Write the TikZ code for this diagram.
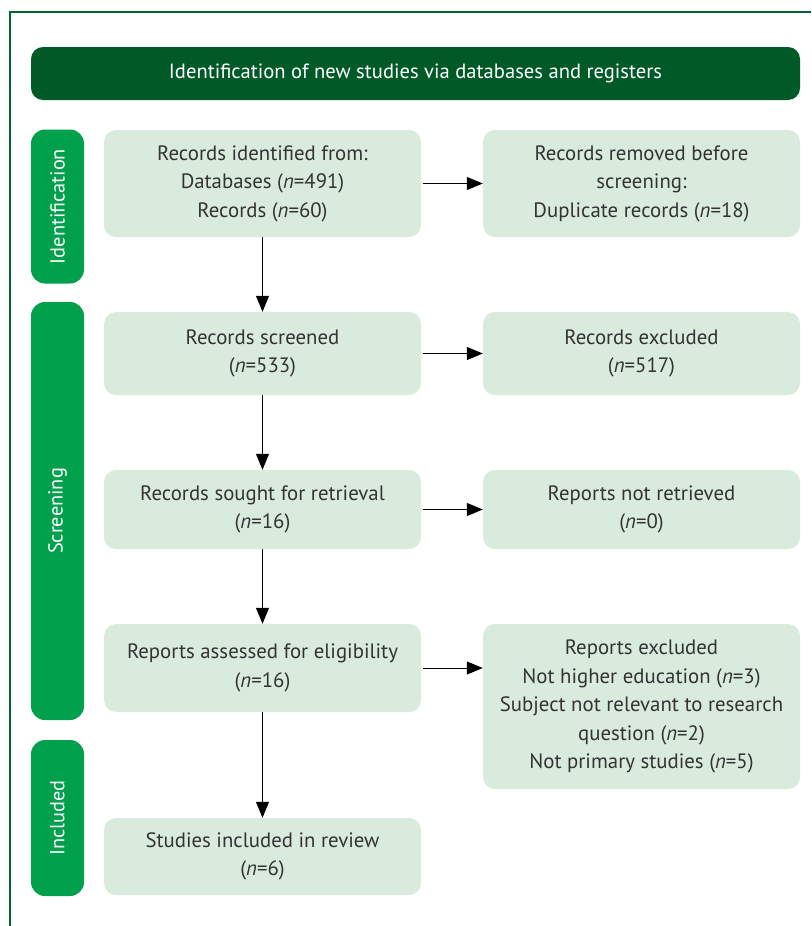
\documentclass[tikz,border=0pt]{standalone}
\usepackage{fontspec}
\setmainfont{PT Sans}
\usetikzlibrary{arrows.meta}
\definecolor{hdr}{HTML}{005A27}
\definecolor{side}{HTML}{00A04C}
\definecolor{boxfill}{HTML}{D9EBDD}
\definecolor{txt}{HTML}{333333}
\definecolor{frame}{HTML}{00662E}
\begin{document}
\begin{tikzpicture}[x=1pt,y=-1pt,
  flowbox/.style={fill=boxfill,rounded corners=12pt,minimum width=317pt,align=center,
    text=txt,font=\fontsize{20.8}{28.5}\selectfont,inner sep=0pt},
  sidebox/.style={fill=side,rounded corners=14pt,text=white,
    font=\fontsize{20.3}{24}\selectfont,inner sep=0pt},
  arr/.style={-{Triangle[length=16pt,width=13pt]},line width=1pt,black}]
\useasboundingbox (0,0) rectangle (811,926);
\draw[frame,line width=1.2pt] (811,12) -- (10,12) -- (10,926);
% header
\node[fill=hdr,rounded corners=12pt,minimum width=769pt,minimum height=53pt,
  text=white,font=\fontsize{20.6}{24}\selectfont,inner sep=0pt] (hdr) at (415.5,73.5)
  {Identification of new studies via databases and registers};
% side labels
\node[sidebox,minimum width=154pt,minimum height=53pt,rotate=90] (sid) at (57.5,206.5) {Identification};
\node[sidebox,minimum width=418pt,minimum height=53pt,rotate=90] (ssc) at (57.5,511) {Screening};
\node[sidebox,minimum width=156pt,minimum height=53pt,rotate=90] (sin) at (57.5,818) {Included};
% left boxes
\node[flowbox,minimum height=107pt] (l1) at (262.5,183.5) {Records identified from:\\Databases (\textit{n}=491)\\Records (\textit{n}=60)};
\node[flowbox,minimum height=83pt] (l2) at (262.5,353.5) {Records screened\\(\textit{n}=533)};
\node[flowbox,minimum height=79pt] (l3) at (262.5,509.5) {Records sought for retrieval\\(\textit{n}=16)};
\node[flowbox,minimum height=88pt] (l4) at (262.5,668) {Reports assessed for eligibility\\(\textit{n}=16)};
\node[flowbox,minimum height=77pt] (l5) at (262.5,856.5) {Studies included in review\\(\textit{n}=6)};
% right boxes
\node[flowbox,minimum height=107pt] (r1) at (641.5,183.5) {Records removed before\\screening:\\Duplicate records (\textit{n}=18)};
\node[flowbox,minimum height=83pt] (r2) at (641.5,353.5) {Records excluded\\(\textit{n}=517)};
\node[flowbox,minimum height=79pt] (r3) at (641.5,509.5) {Reports not retrieved\\(\textit{n}=0)};
\node[flowbox,minimum height=165pt] (r4) at (641.5,706.5) {Reports excluded\\Not higher education (\textit{n}=3)\\Subject not relevant to research\\question (\textit{n}=2)\\Not primary studies (\textit{n}=5)};
% arrows
\draw[arr] (l1.south) -- (l2.north);
\draw[arr] (l2.south) -- (l3.north);
\draw[arr] (l3.south) -- (l4.north);
\draw[arr] (l4.south) -- (l5.north);
\draw[arr] ([xshift=2pt]l1.east) -- (r1.west);
\draw[arr] ([xshift=2pt]l2.east) -- (r2.west);
\draw[arr] ([xshift=2pt]l3.east) -- (r3.west);
\draw[arr] ([xshift=2pt]l4.east) -- (r4.west |- l4.east);
\end{tikzpicture}
\end{document}
